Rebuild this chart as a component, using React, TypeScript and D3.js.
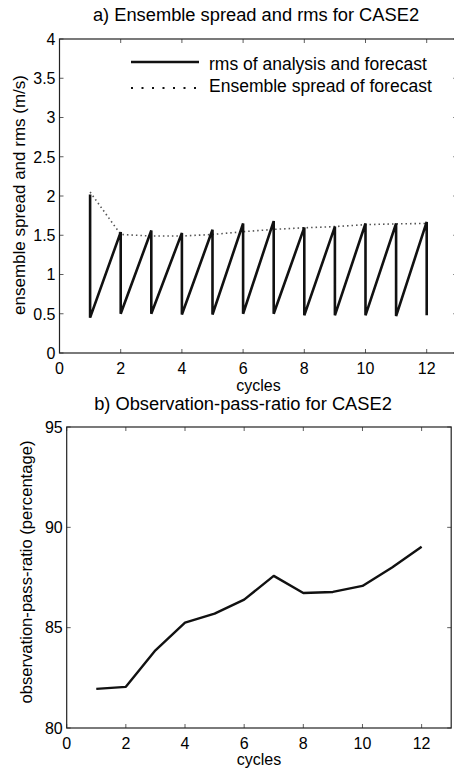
import React, { useEffect, useRef } from 'react';
import * as d3 from 'd3';

// cycle numbers
const cycles = [1, 2, 3, 4, 5, 6, 7, 8, 9, 10, 11, 12];
// rms of forecast (peak before each analysis) and rms of analysis (after update)
const rmsForecast = [2.02, 1.54, 1.56, 1.53, 1.57, 1.65, 1.68, 1.6, 1.61, 1.65, 1.65, 1.67];
const rmsAnalysis = [0.45, 0.5, 0.5, 0.49, 0.49, 0.5, 0.5, 0.48, 0.48, 0.48, 0.47, 0.48];
// ensemble spread of forecast
const spread = [2.05, 1.51, 1.49, 1.49, 1.51, 1.545, 1.575, 1.595, 1.61, 1.635, 1.645, 1.65];
// observation pass ratio (%)
const passRatio = [81.95, 82.05, 83.87, 85.25, 85.7, 86.4, 87.58, 86.73, 86.78, 87.08, 88.0, 89.03];

const xTicks = [0, 2, 4, 6, 8, 10, 12];
const yTicksA = [0, 0.5, 1, 1.5, 2, 2.5, 3, 3.5, 4];
const yTicksB = [80, 85, 90, 95];

const FONT = "'Liberation Sans', Arial, sans-serif";

function drawFrame(g, x, y, yTicks, ylabel, opts) {
  const [x0, x1] = x.range();
  const [y0, y1] = y.range(); // y0 bottom, y1 top
  const tick = 4;

  // ticks on all four sides, pointing inward (matlab box)
  xTicks.forEach(t => {
    g.append('line').attr('x1', x(t)).attr('x2', x(t)).attr('y1', y0).attr('y2', y0 - tick)
      .attr('stroke', '#333').attr('stroke-width', 0.8);
    g.append('line').attr('x1', x(t)).attr('x2', x(t)).attr('y1', y1).attr('y2', y1 + tick)
      .attr('stroke', '#333').attr('stroke-width', 0.8);
    g.append('text').attr('x', x(t)).attr('y', y0 + opts.xTickDy)
      .attr('text-anchor', 'middle').attr('font-size', 16).text(t);
  });
  yTicks.forEach(t => {
    g.append('line').attr('x1', x0).attr('x2', x0 + tick).attr('y1', y(t)).attr('y2', y(t))
      .attr('stroke', '#333').attr('stroke-width', 0.8);
    g.append('line').attr('x1', x1).attr('x2', x1 - tick).attr('y1', y(t)).attr('y2', y(t))
      .attr('stroke', '#333').attr('stroke-width', 0.8);
    g.append('text').attr('x', x0 - 4).attr('y', y(t)).attr('dy', '0.36em')
      .attr('text-anchor', 'end').attr('font-size', 16).text(String(t));
  });

  g.append('rect').attr('x', x0).attr('y', y1).attr('width', x1 - x0).attr('height', y0 - y1)
    .attr('fill', 'none').attr('stroke', '#222').attr('stroke-width', 1.2);

  g.append('text').attr('x', (x0 + x1) / 2).attr('y', opts.cyclesY)
    .attr('text-anchor', 'middle').attr('font-size', 16).text('cycles');

  g.append('text')
    .attr('transform', `translate(${opts.ylabelX},${opts.ylabelY}) rotate(-90)`)
    .attr('text-anchor', 'middle').attr('font-size', opts.ylabelSize).text(ylabel);

  g.append('text').attr('x', opts.titleX).attr('y', opts.titleY)
    .attr('text-anchor', 'middle').attr('font-size', 18.3).text(opts.title);
}

const App = () => {
  const ref = useRef(null);

  useEffect(() => {
    const svg = d3.select(ref.current);
    svg.selectAll('*').remove();

    // ---- panel a ----
    const xa = d3.scaleLinear().domain([0, 13]).range([59.5, 457.3]);
    const ya = d3.scaleLinear().domain([0, 4]).range([353, 39]);
    const ga = svg.append('g');

    drawFrame(ga, xa, ya, yTicksA, 'ensemble spread and rms (m/s)', {
      xTickDy: 21, cyclesY: 391, ylabelX: 25, ylabelY: 195, ylabelSize: 17,
      titleX: 256, titleY: 21, title: 'a) Ensemble spread and rms for CASE2'
    });

    const saw = cycles.flatMap((c, i) => [[c, rmsForecast[i]], [c, rmsAnalysis[i]]]);
    const lineA = d3.line().x(d => xa(d[0])).y(d => ya(d[1]));

    ga.append('path').datum(cycles.map((c, i) => [c, spread[i]]))
      .attr('d', lineA).attr('fill', 'none').attr('stroke', '#555')
      .attr('stroke-width', 1.6).attr('stroke-dasharray', '1.5,3');
    ga.append('path').datum(saw)
      .attr('d', lineA).attr('fill', 'none').attr('stroke', '#111')
      .attr('stroke-width', 2.6).attr('stroke-linejoin', 'miter');

    // legend
    const leg = ga.append('g');
    leg.append('line').attr('x1', 131).attr('x2', 199).attr('y1', 62).attr('y2', 62)
      .attr('stroke', '#111').attr('stroke-width', 2.6);
    leg.append('text').attr('x', 209).attr('y', 70).attr('font-size', 17.5)
      .text('rms of analysis and forecast');
    leg.append('line').attr('x1', 131).attr('x2', 199).attr('y1', 88).attr('y2', 88)
      .attr('stroke', '#111').attr('stroke-width', 2).attr('stroke-dasharray', '2,8.5');
    leg.append('text').attr('x', 209).attr('y', 92).attr('font-size', 17.5)
      .text('Ensemble spread of forecast');

    // ---- panel b ----
    const xb = d3.scaleLinear().domain([0, 13]).range([66.7, 451.2]);
    const yb = d3.scaleLinear().domain([80, 95]).range([728, 427]);
    const gb = svg.append('g');

    drawFrame(gb, xb, yb, yTicksB, 'observation-pass-ratio (percentage)', {
      xTickDy: 21, cyclesY: 765, ylabelX: 32, ylabelY: 572, ylabelSize: 16.6,
      titleX: 243, titleY: 410, title: 'b) Observation-pass-ratio for CASE2'
    });

    const lineB = d3.line().x((d, i) => xb(cycles[i])).y(d => yb(d));
    gb.append('path').datum(passRatio)
      .attr('d', lineB).attr('fill', 'none').attr('stroke', '#111')
      .attr('stroke-width', 2.4).attr('stroke-linejoin', 'round');
  }, []);

  return (
    <svg ref={ref} width={454} height={771}
      style={{ position: 'absolute', left: 0, top: 0, background: '#fff', fontFamily: FONT }} />
  );
};

export default App;
